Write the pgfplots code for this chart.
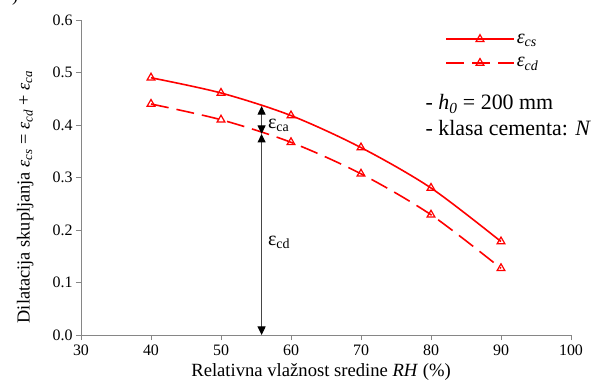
\documentclass[border=0pt]{standalone}
\usepackage{fontspec}
\setmainfont{Liberation Serif}
\usepackage{pgfplots}
\usepackage{pgfplotstable}
\pgfplotsset{compat=1.18}
\usetikzlibrary{arrows.meta}

% Shrinkage strain vs. relative humidity
\pgfplotstableread{
rh  cs    cd
40  0.490 0.440
50  0.461 0.410
60  0.418 0.367
70  0.357 0.307
80  0.280 0.229
90  0.178 0.127
}\shrinkage

\definecolor{axisgray}{RGB}{134,134,134}
\definecolor{arrowgray}{RGB}{70,70,70}

\begin{document}
\begin{tikzpicture}
\begin{axis}[
  at={(0,0)}, anchor=south west,
  scale only axis, width=490bp, height=315bp,
  xmin=30, xmax=100, ymin=0, ymax=0.6,
  xtick={30,40,...,100},
  ytick={0,0.1,0.2,0.3,0.4,0.5,0.6},
  axis x line*=bottom, axis y line*=left,
  axis line style={axisgray, line width=0.8bp, -},
  every tick/.style={axisgray, line width=0.8bp},
  tick align=outside, major tick length=5bp,
  xtick pos=left, ytick pos=left,
  tick label style={font=\fontsize{16}{18}\selectfont},
  xticklabel style={yshift=-1bp},
  /pgf/number format/assume math mode=true,
  yticklabel style={/pgf/number format/.cd, fixed, fixed zerofill, precision=1},
  xlabel={Relativna vlažnost sredine \textit{RH} (\%)},
  xlabel style={font=\fontsize{18.7}{21}\selectfont, at={(axis description cs:0.49,0)}, anchor=base, yshift=-41bp},
  ylabel={Dilatacija skupljanja \textit{ε\textsubscript{cs}} = \textit{ε\textsubscript{cd}} + \textit{ε\textsubscript{ca}}},
  ylabel style={font=\fontsize{18.4}{21}\selectfont, at={(axis description cs:-0.105,0.026)}, anchor=base west, rotate=0},
  legend style={draw=none, fill=none, at={(axis cs:82,0.578)}, anchor=north west,
    font=\fontsize{20}{22}\selectfont, row sep=9bp, inner sep=0pt},
  legend cell align=left,
  legend image code/.code={
    \draw[#1, mark repeat=2, mark phase=2] plot coordinates {(0bp,0bp) (34bp,0bp) (68bp,0bp)};
  },
  clip=false,
]
\addplot[red, line width=1.6bp, smooth, mark=triangle, mark size=4.5bp,
  mark options={solid, fill=white, line width=1.2bp}]
  table[x=rh, y=cs] {\shrinkage};
\addlegendentry{\textit{ε\textsubscript{cs}}}
\addplot[red, line width=1.6bp, smooth, dash pattern=on 18bp off 8bp, mark=triangle, mark size=4.5bp,
  mark options={solid, fill=white, line width=1.2bp}]
  table[x=rh, y=cd] {\shrinkage};
\addlegendentry{\textit{ε\textsubscript{cd}}}

% components of the total shrinkage strain
\draw[arrowgray, line width=1bp, {Triangle[black, length=8.5bp, width=8bp]}-{Triangle[black, length=8.5bp, width=8bp]}]
  (axis cs:55.8,0) -- (axis cs:55.8,0.383);
\draw[arrowgray, line width=1bp, {Triangle[black, length=8.5bp, width=8bp]}-{Triangle[black, length=8.5bp, width=8bp]}]
  (axis cs:55.8,0.383) -- (axis cs:55.8,0.436);
\node[anchor=west, inner sep=0pt, font=\fontsize{20}{22}\selectfont] at (axis cs:56.7,0.399) {ε\textsubscript{ca}};
\node[anchor=west, inner sep=0pt, font=\fontsize{20}{22}\selectfont] at (axis cs:56.7,0.176) {ε\textsubscript{cd}};

\node[anchor=west, inner sep=0pt, font=\fontsize{22}{24}\selectfont] at (axis cs:79.2,0.44) {- \textit{h\textsubscript{0}} = 200 mm};
\node[anchor=west, inner sep=0pt, font=\fontsize{22}{24}\selectfont] at (axis cs:79.2,0.395) {- klasa cementa: \textit{N}};
\end{axis}
\node[anchor=south, inner sep=0pt, font=\fontsize{18}{20}\selectfont] at (-66bp,329bp) {)};
\pgfresetboundingbox
\path[use as bounding box] (-81bp,-46bp) rectangle (514bp,335bp);
\end{tikzpicture}
\end{document}
